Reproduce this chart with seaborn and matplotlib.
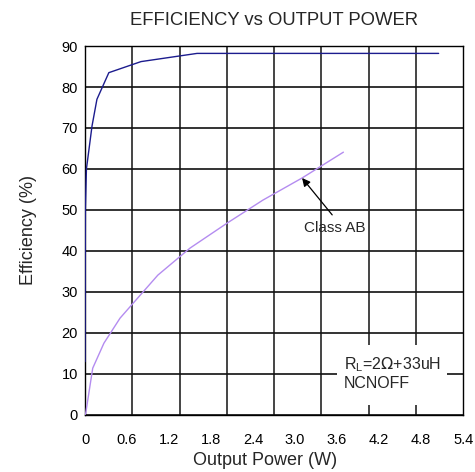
import matplotlib
matplotlib.use("Agg")
import matplotlib.pyplot as plt
import pandas as pd
import seaborn as sns
from matplotlib.patches import Rectangle
from matplotlib.ticker import FixedLocator

# efficiency curves
pow_main = [0.0, 0.005, 0.02, 0.1, 0.17, 0.34, 0.8, 1.6, 5.05]
eff_main = [13.0, 50.0, 60.0, 70.5, 77.0, 83.5, 86.2, 88.2, 88.2]

pow_ab = [0.0, 0.01, 0.11, 0.27, 0.5, 0.69, 1.04, 1.5, 2.03, 2.54, 3.1, 3.69]
eff_ab = [0.0, 0.4, 11.4, 17.5, 23.6, 27.3, 34.1, 40.7, 46.8, 52.4, 57.8, 64.1]

x_ticks = [0, 0.6, 1.2, 1.8, 2.4, 3.0, 3.6, 4.2, 4.8, 5.4]
x_tick_labels = ["0", "0.6", "1.2", "1.8", "2.4", "3.0", "3.6", "4.2", "4.8", "5.4"]
y_ticks = [0, 10, 20, 30, 40, 50, 60, 70, 80, 90]

df_main = pd.DataFrame({"power": pow_main, "eff": eff_main})
df_ab = pd.DataFrame({"power": pow_ab, "eff": eff_ab})

sns.set_style("white")
plt.rcParams["font.family"] = ["Liberation Sans", "DejaVu Sans"]

fig = plt.figure(figsize=(4.75, 4.72), dpi=100, facecolor="w")
ax = fig.add_axes([0.179, 0.121, 0.796, 0.7815])

sns.lineplot(data=df_main, x="power", y="eff", ax=ax, color="#1c1c8e",
             linewidth=1.0, zorder=3, sort=False)
sns.lineplot(data=df_ab, x="power", y="eff", ax=ax, color="#b48cf0",
             linewidth=1.0, zorder=3, sort=False)

ax.set_xlim(0, 5.4)
ax.set_ylim(0, 90)

# labels sit at real values, grid is 8 equal divisions
ax.set_xticks(x_ticks)
ax.set_xticklabels(x_tick_labels)
ax.xaxis.set_minor_locator(FixedLocator([5.4 / 8 * k for k in range(1, 8)]))
ax.set_yticks(y_ticks)

ax.set_axisbelow(True)
ax.grid(which="minor", axis="x", color="#444444", linewidth=1.4)
ax.grid(which="major", axis="y", color="#111111", linewidth=1.2)
ax.grid(which="major", axis="x", visible=False)

ax.tick_params(axis="both", which="both", length=0, labelsize=10.5, colors="black")
ax.tick_params(axis="x", pad=13)
ax.tick_params(axis="y", pad=5)

for s in ax.spines.values():
    s.set_color("black")
    s.set_linewidth(1.0)

ax.set_xlabel("Output Power (W)", fontsize=13)
ax.xaxis.set_label_coords(0.476, -0.1)
ax.set_ylabel("Efficiency (%)", fontsize=13, labelpad=18)
ax.set_title("EFFICIENCY vs OUTPUT POWER", fontsize=13.3, pad=15)

# white note box over the grid
ax.add_patch(Rectangle((0.667, 0.027), 0.291, 0.163, transform=ax.transAxes,
                       facecolor="white", edgecolor="none", zorder=1))
ax.text(0.684, 0.135, r"R$_{\mathregular{L}}$=2$\Omega$+33uH", transform=ax.transAxes,
        fontsize=11.5, va="center", ha="left", zorder=4)
ax.text(0.684, 0.085, "NCNOFF", transform=ax.transAxes,
        fontsize=11.5, va="center", ha="left", zorder=4)

ax.annotate("", xy=(3.1, 57.8), xytext=(3.53, 48.8),
            arrowprops=dict(arrowstyle="-|>", color="black", lw=0.9,
                            shrinkA=0, shrinkB=0, mutation_scale=12))
ax.text(3.57, 45.5, "Class AB", fontsize=11, ha="center", va="center")

fig.savefig("out.png", dpi=100, facecolor="w")
